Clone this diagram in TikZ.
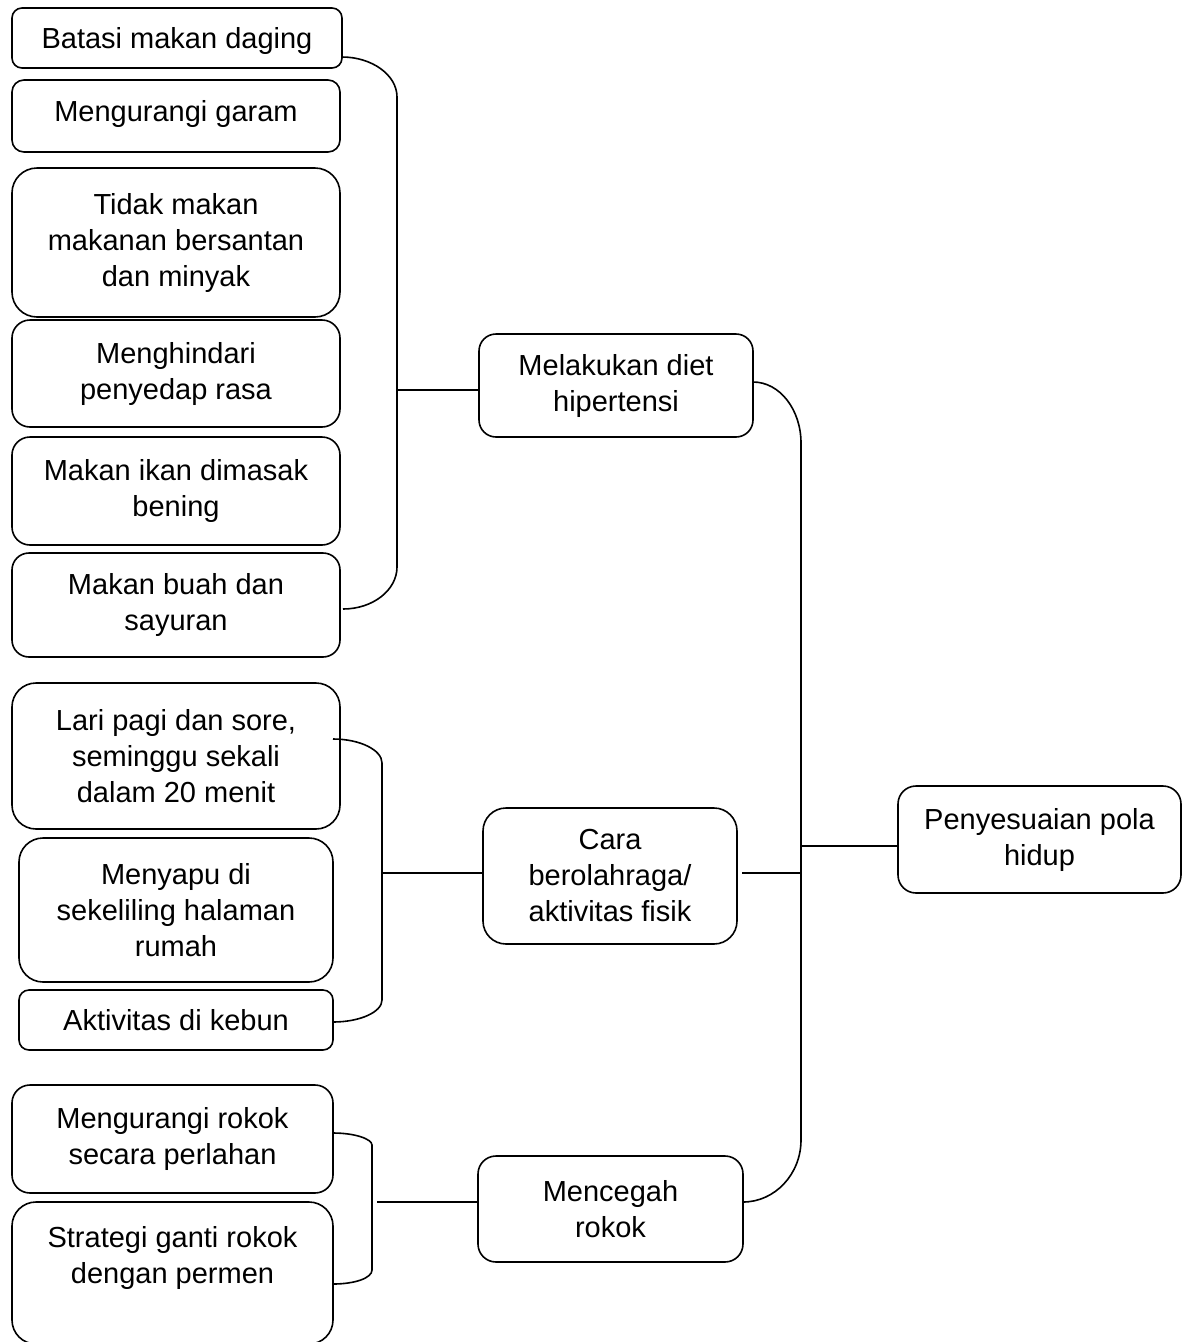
\documentclass[tikz,border=0pt]{standalone}
\usepackage{fontspec}
\setmainfont{Liberation Sans}
\begin{document}
\begin{tikzpicture}[x=1pt,y=-1pt,
  box/.style={draw, line width=1.6pt, align=center, inner sep=0pt,
    font=\fontsize{29}{36}\selectfont},
  conn/.style={line width=1.6pt}]
\clip (0,0) rectangle (1187,1342);
\fill[white] (0,0) rectangle (1187,1342);
% left column: diet
\node[box, minimum width=330, minimum height=60, rounded corners=10, text depth=0pt] (b1) at (177,38) {Batasi makan daging};
\node[box, minimum width=328, minimum height=72, rounded corners=12, text depth=10pt] (b2) at (176,116) {Mengurangi garam};
\node[box, minimum width=328, minimum height=149, rounded corners=25] (b3) at (176,242.5) {Tidak makan\\makanan bersantan\\dan minyak};
\node[box, minimum width=328, minimum height=107, rounded corners=18] (b4) at (176,373.5) {Menghindari\\penyedap rasa};
\node[box, minimum width=328, minimum height=108, rounded corners=18] (b5) at (176,491) {Makan ikan dimasak\\bening};
\node[box, minimum width=328, minimum height=104, rounded corners=17] (b6) at (176,605) {Makan buah dan\\sayuran};
% left column: exercise
\node[box, minimum width=328, minimum height=146, rounded corners=24] (c1) at (176,756) {Lari pagi dan sore,\\seminggu sekali\\dalam 20 menit};
\node[box, minimum width=314, minimum height=144, rounded corners=24] (c2) at (176,910) {Menyapu di\\sekeliling halaman\\rumah};
\node[box, minimum width=314, minimum height=60, rounded corners=10] (c3) at (176,1020) {Aktivitas di kebun};
% left column: smoking
\node[box, minimum width=321, minimum height=108, rounded corners=18] (d1) at (172.5,1139) {Mengurangi rokok\\secara perlahan};
\node[box, minimum width=321, minimum height=142, rounded corners=24] (d2) at (172.5,1273) {Strategi ganti rokok\\dengan permen\\~};
% middle column
\node[box, minimum width=274, minimum height=103, rounded corners=17] (m1) at (616,385.5) {Melakukan diet\\hipertensi};
\node[box, minimum width=254, minimum height=136, rounded corners=23] (m2) at (610,876) {Cara\\berolahraga/\\aktivitas fisik};
\node[box, minimum width=265, minimum height=106, rounded corners=18] (m3) at (610.5,1209) {Mencegah\\rokok};
% right
\node[box, minimum width=283, minimum height=107, rounded corners=18] (r1) at (1039.5,839.5) {Penyesuaian pola\\hidup};
% bracket coordinates
\coordinate (k1t) at (342,57);
\coordinate (k1b) at (343,609);
\coordinate (k1m) at (397,390);
\coordinate (k2t) at (333,739);
\coordinate (k2b) at (333,1022);
\coordinate (k2m) at (382,873);
\coordinate (k3t) at (333,1133);
\coordinate (k3b) at (333,1284);
\coordinate (k3m) at (377,1202);
\coordinate (kmt) at (753,382);
\coordinate (kmb) at (743,1202);
\coordinate (kmm) at (801,846);
\coordinate (kmc) at (742,873);
% bracket 1
\draw[conn] (k1t) .. controls (372,57) and (397,75) .. (397,97) -- (397,567)
  .. controls (397,590) and (373,609) .. (k1b);
\draw[conn] (k1m) -- (m1.west |- k1m);
% bracket 2
\draw[conn] (k2t) .. controls (360,739) and (382,750) .. (382,763) -- (382,1000)
  .. controls (382,1012) and (360,1022) .. (k2b);
\draw[conn] (k2m) -- (m2.west |- k2m);
% bracket 3
\draw[conn] (k3t) .. controls (355,1133) and (372,1139) .. (372,1145) -- (372,1270)
  .. controls (372,1278) and (355,1284) .. (k3b);
\draw[conn] (k3m) -- (m3.west |- k3m);
% main bracket
\draw[conn] (kmt) .. controls (780,382) and (801,410) .. (801,443) -- (801,1140)
  .. controls (801,1174) and (775,1202) .. (kmb);
\draw[conn] (kmm) -- (r1.west |- kmm);
\draw[conn] (kmc) -- (801,873);
\end{tikzpicture}
\end{document}
